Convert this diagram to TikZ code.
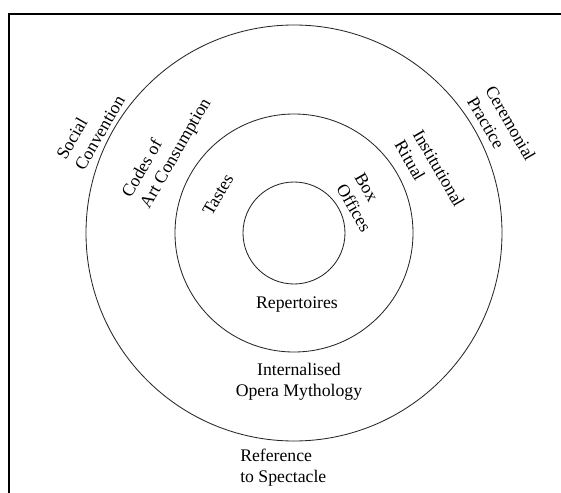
\documentclass[tikz,border=0pt]{standalone}
\usepackage{fontspec}
\setmainfont{Liberation Serif}

\begin{document}
\begin{tikzpicture}[
	l/.style = {inner sep=0pt, font=\fontsize{12.6}{15}\selectfont},
	ring/.style = {draw=black!85, line width=0.6pt},
	frame/.style = {draw=black, line width=1.4pt}
	]
	
	\useasboundingbox	(-7.35, -6.5)	rectangle	(6.675, 5.825);
	
	%Frame
	\draw[frame]	(-7.125, -6.8)	|-	(6.9, 5.475);
	
	%Rings
	\coordinate	(c)	at	(0, 0);
	\draw[ring]	(c)	circle	(5.2);
	\draw[ring]	(c)	circle	(2.975);
	\draw[ring]	(c)	circle	(1.275);
	
	%Nodes
	\node[l, rotate=60, align=left]		(soc)	at	(-5.09, 2.64)	{Social\\Convention};
	\node[l, rotate=60, align=left]		(cod)	at	(-3.17, 2.115)	{Codes of\\Art Consumption};
	\node[l, rotate=60]					(tas)	at	(-1.9, 0.95)	{Tastes};
	\node[l, rotate=-60, align=left]	(box)	at	(1.725, 0.76)	{Box\\Offices};
	\node[l, rotate=-60, align=left]	(ins)	at	(3.395, 1.49)	{Institutional\\Ritual};
	\node[l, rotate=-60, align=left]	(cer)	at	(5.19, 2.61)	{Ceremonial\\Practice};
	\node[l]							(rep)	at	(0.075, -1.8)	{Repertoires};
	\node[l, align=center]				(int)	at	(0.125, -3.725)	{Internalised\\Opera Mythology};
	\node[l, align=left, anchor=west]	(ref)	at	(-1.35, -5.86)	{Reference\\to Spectacle};
	
\end{tikzpicture}
\end{document}
